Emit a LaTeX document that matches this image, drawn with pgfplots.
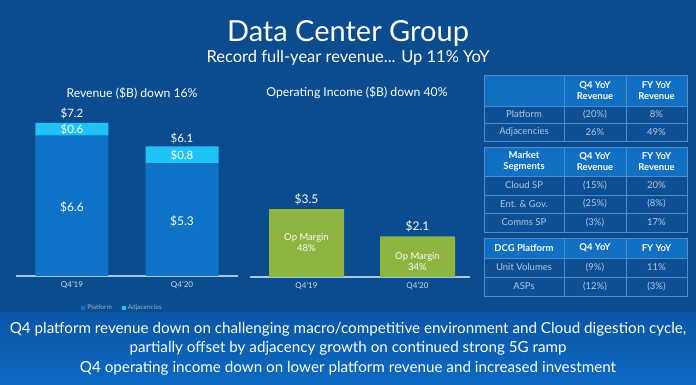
\documentclass[border=0pt]{standalone}
\usepackage{pgfplots}
\pgfplotsset{compat=1.18}
\usepackage{fontspec}
\setmainfont{Lato}
\definecolor{bgcol}{RGB}{11,76,143}
\definecolor{bandtop}{RGB}{10,86,166}
\definecolor{bandbot}{RGB}{14,106,194}
\definecolor{platcol}{RGB}{15,115,200}
\definecolor{adjcol}{RGB}{30,194,245}
\definecolor{greencol}{RGB}{141,180,63}
\definecolor{linecol}{RGB}{168,200,232}
\definecolor{ticktext}{RGB}{208,220,234}
\definecolor{legtext}{RGB}{160,182,208}
\definecolor{thead}{RGB}{18,112,196}
\definecolor{trow}{RGB}{13,79,149}
\definecolor{tabline}{RGB}{80,140,203}
\definecolor{rowtext}{RGB}{181,201,224}
\newcommand{\fs}[2]{\fontsize{#1}{#2}\selectfont}
\newcommand{\hcell}[5]{\filldraw[draw=tabline,fill=thead,line width=0.7pt] (#1,#2) rectangle (#3,#4);
  \node[align=center,text=white,font={\fs{9.5}{11}\bfseries},inner sep=0pt] at ({(#1+#3)/2},{(#2+#4)/2}) {#5};}
\newcommand{\dcell}[5]{\filldraw[draw=tabline,fill=trow,line width=0.7pt] (#1,#2) rectangle (#3,#4);
  \node[align=center,text=rowtext,font={\fs{9.5}{11}},inner sep=0pt] at ({(#1+#3)/2},{(#2+#4)/2}) {#5};}
\begin{document}
\begin{tikzpicture}
\useasboundingbox (0pt,0pt) rectangle (696pt,385pt);
\begin{scope}[shift={(0pt,385pt)},x=1pt,y=-1pt]
  \fill[bgcol] (0,0) rectangle (696,385);
  \shade[top color=bandtop,bottom color=bandbot] (0,313) rectangle (696,385);
  \node[text=white,font={\fs{29}{32}}] at (348,33) {Data Center Group};
  \node[text=white,font={\fs{16.5}{18}}] at (348,58) {Record full-year revenue... Up 11\% YoY};
  \node[text=white,font={\fs{12.2}{14}}] at (132,93) {Revenue (\$B) down 16\%};
  \node[text=white,font={\fs{12.2}{14}}] at (357,93) {Operating Income (\$B) down 40\%};
  % table 1
  \hcell{484}{75}{564}{106}{}
  \hcell{564}{75}{626}{106}{Q4 YoY\\Revenue}
  \hcell{626}{75}{687}{106}{FY YoY\\Revenue}
  \dcell{484}{106}{564}{123}{Platform}
  \dcell{564}{106}{626}{123}{(20\%)}
  \dcell{626}{106}{687}{123}{8\%}
  \dcell{484}{123}{564}{141}{Adjacencies}
  \dcell{564}{123}{626}{141}{26\%}
  \dcell{626}{123}{687}{141}{49\%}
  % table 2
  \hcell{484}{147}{564}{176}{Market\\Segments}
  \hcell{564}{147}{626}{176}{Q4 YoY\\Revenue}
  \hcell{626}{147}{687}{176}{FY YoY\\Revenue}
  \dcell{484}{176}{564}{195}{Cloud SP}
  \dcell{564}{176}{626}{195}{(15\%)}
  \dcell{626}{176}{687}{195}{20\%}
  \dcell{484}{195}{564}{213}{Ent. \& Gov.}
  \dcell{564}{195}{626}{213}{(25\%)}
  \dcell{626}{195}{687}{213}{(8\%)}
  \dcell{484}{213}{564}{232}{Comms SP}
  \dcell{564}{213}{626}{232}{(3\%)}
  \dcell{626}{213}{687}{232}{17\%}
  % table 3
  \hcell{484}{238}{564}{258}{DCG Platform}
  \hcell{564}{238}{626}{258}{Q4 YoY}
  \hcell{626}{238}{687}{258}{FY YoY}
  \dcell{484}{258}{564}{277}{Unit Volumes}
  \dcell{564}{258}{626}{277}{(9\%)}
  \dcell{626}{258}{687}{277}{11\%}
  \dcell{484}{277}{564}{296}{ASPs}
  \dcell{564}{277}{626}{296}{(12\%)}
  \dcell{626}{277}{687}{296}{(3\%)}
  % bottom text
  \node[text=white,font={\fs{15.2}{18}}] at (348,329) {Q4 platform revenue down on challenging macro/competitive environment and Cloud digestion cycle,};
  \node[text=white,font={\fs{15.2}{18}}] at (348,348) {partially offset by adjacency growth on continued strong 5G ramp};
  \node[text=white,font={\fs{15.2}{18}}] at (348,368) {Q4 operating income down on lower platform revenue and increased investment};
\end{scope}

% Revenue chart
\begin{axis}[
  at={(16pt,109pt)}, anchor=south west, scale only axis,
  width=222pt, height=170pt,
  xmin=-0.509, xmax=1.509, ymin=0, ymax=8,
  ybar stacked, bar width=73pt,
  axis x line=bottom, axis y line=none,
  x axis line style={draw=linecol, line width=1.2pt, -},
  xtick={0,1}, xticklabels={Q4’19,Q4’20}, major tick length=0pt,
  xticklabel style={font={\fs{8}{9}}, text=ticktext, yshift=-2pt},
  ytick=\empty, clip=false,
  legend style={at={(0.48,-0.188)}, anchor=center, draw=none, fill=none,
    legend columns=2, font={\fs{6.5}{8}}, text=legtext,
    /tikz/every even column/.append style={column sep=8pt}},
  legend image code/.code={\fill[#1] (0pt,-2pt) rectangle (4pt,2pt);},
]
\addplot[fill=platcol, draw=none] coordinates {(0,6.6) (1,5.3)};
\addplot[fill=adjcol, draw=none] coordinates {(0,0.6) (1,0.8)};
\legend{Platform, Adjacencies}
\coordinate (p1) at (axis cs:0,3.25);
\coordinate (p2) at (axis cs:1,2.59);
\coordinate (a1) at (axis cs:0,6.88);
\coordinate (a2) at (axis cs:1,5.68);
\coordinate (t1) at (axis cs:0,7.67);
\coordinate (t2) at (axis cs:1,6.45);
\end{axis}
\node[text=white,font={\fs{12}{14}}] at (p1) {\$6.6};
\node[text=white,font={\fs{12}{14}}] at (p2) {\$5.3};
\node[text=white,font={\fs{11.5}{14}}] at (a1) {\$0.6};
\node[text=white,font={\fs{11.5}{14}}] at (a2) {\$0.8};
\node[text=white,font={\fs{11.5}{14}}] at (t1) {\$7.2};
\node[text=white,font={\fs{11.5}{14}}] at (t2) {\$6.1};

% Operating income chart
\begin{axis}[
  at={(250pt,108pt)}, anchor=south west, scale only axis,
  width=220pt, height=97pt,
  xmin=-0.509, xmax=1.473, ymin=0, ymax=5,
  ybar, bar width=75pt,
  axis x line=bottom, axis y line=none,
  x axis line style={draw=linecol, line width=1.2pt, -},
  xtick={0,1}, xticklabels={Q4’19,Q4’20}, major tick length=0pt,
  xticklabel style={font={\fs{8}{9}}, text=ticktext, yshift=-2pt},
  ytick=\empty, clip=false,
]
\addplot[fill=greencol, draw=none] coordinates {(0,3.5) (1,2.1)};
\coordinate (o1) at (axis cs:0,4.02);
\coordinate (o2) at (axis cs:1,2.63);
\coordinate (m1) at (axis cs:0,1.78);
\coordinate (m2) at (axis cs:1,0.82);
\end{axis}
\node[text=white,font={\fs{12}{14}}] at (o1) {\$3.5};
\node[text=white,font={\fs{12}{14}}] at (o2) {\$2.1};
\node[text=white,font={\fs{9.5}{11}},align=center] at (m1) {Op Margin\\48\%};
\node[text=white,font={\fs{9.5}{11}},align=center] at (m2) {Op Margin\\34\%};
\end{tikzpicture}
\end{document}
